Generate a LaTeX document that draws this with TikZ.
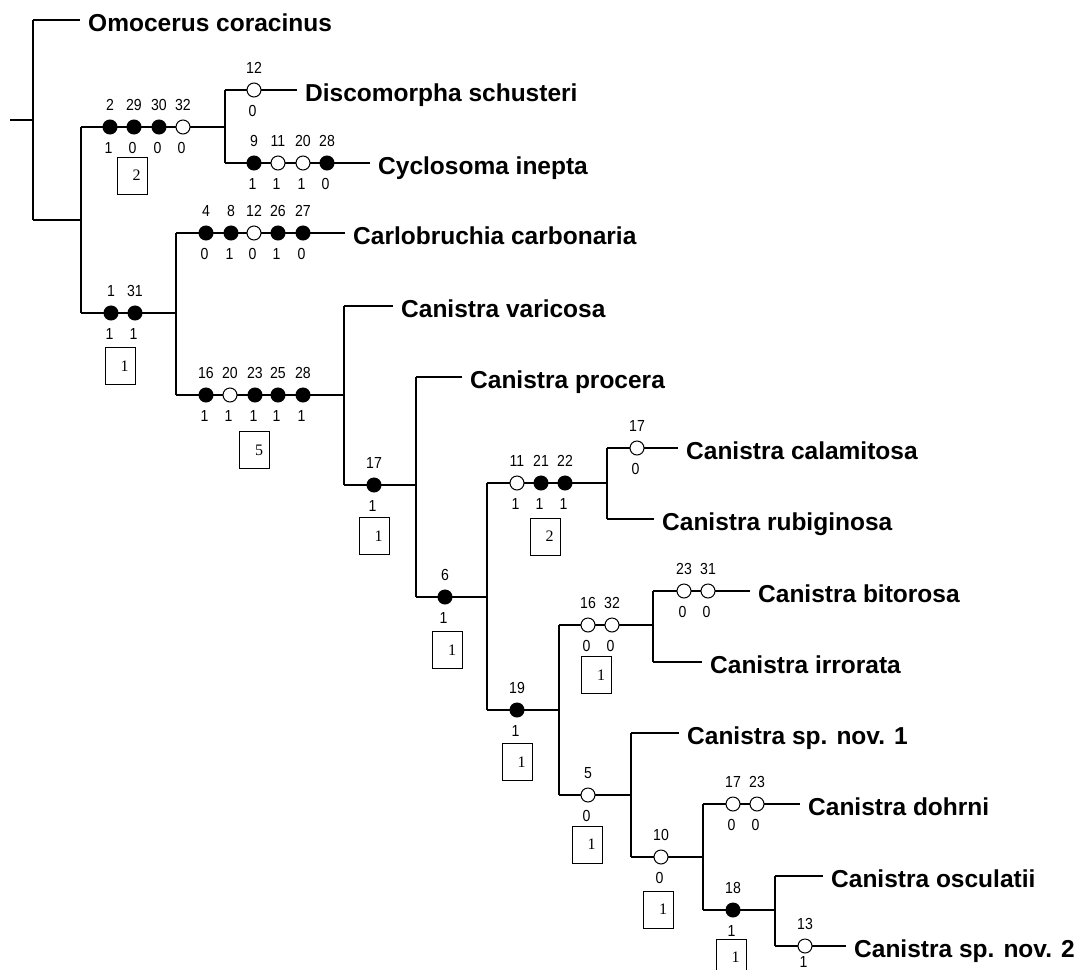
\documentclass[tikz,border=0pt]{standalone}
\usepackage{fontspec}
\newfontfamily\taxfam{Liberation Sans}
\newfontfamily\numfam{Liberation Sans}[FakeStretch=0.88]
\newfontfamily\boxfam{Liberation Serif}
\newcommand\apo[6]{%
  \node[#4] (#1) at (#2,#3) {};
  \node[numlab] (#1u) at (#2,#3-22) {#5};
  \node[numlab] (#1d) at (#2-1.5,#3+21) {#6};
}
\begin{document}
\begin{tikzpicture}[x=1pt,y=-1pt,
  br/.style={line width=1.3pt},
  fillcirc/.style={circle,draw=black,fill=black,line width=1pt,minimum size=14pt,inner sep=0},
  opencirc/.style={circle,draw=black,fill=white,line width=1pt,minimum size=14pt,inner sep=0},
  numlab/.style={font=\numfam\fontsize{16}{18}\selectfont,inner sep=0},
  taxon/.style={font=\taxfam\bfseries\fontsize{24.5}{28}\selectfont,anchor=base west,inner xsep=8pt,inner ysep=0},
  stepsbox/.style={draw,line width=1pt,minimum width=30pt,minimum height=37pt,inner sep=0,font=\boxfam\fontsize{16}{18}\selectfont}]
\useasboundingbox (0,0) rectangle (1080,970);
% joints
\coordinate (r0) at (10,120);
\coordinate (kOmo) at (33,20);  \coordinate (kA) at (33,220);
\coordinate (kB) at (81,127);   \coordinate (kC) at (81,313);
\coordinate (kDisc) at (225,90); \coordinate (kCyc) at (225,163);
\coordinate (kCarl) at (176,233); \coordinate (kD) at (176,395);
\coordinate (kVar) at (344,306); \coordinate (kE) at (344,485);
\coordinate (kPro) at (416,377); \coordinate (kF) at (416,597);
\coordinate (kG) at (487,483);   \coordinate (kH) at (487,710);
\coordinate (kCal) at (607,448); \coordinate (kRub) at (607,519);
\coordinate (kI) at (559,625);   \coordinate (kJ) at (559,795);
\coordinate (kBit) at (653,591); \coordinate (kIrr) at (653,662);
\coordinate (kSp1) at (631,733); \coordinate (kK) at (631,857);
\coordinate (kDoh) at (703,804); \coordinate (kL) at (703,910);
\coordinate (kOsc) at (775,876); \coordinate (kSp2) at (775,946);
% taxa
\node[taxon] (tOmo) at (80,31) {Omocerus coracinus};
\node[taxon] (tDisc) at (297,101) {Discomorpha schusteri};
\node[taxon] (tCyc) at (370,174) {Cyclosoma inepta};
\node[taxon] (tCarl) at (345,244) {Carlobruchia carbonaria};
\node[taxon] (tVar) at (393,317) {Canistra varicosa};
\node[taxon] (tPro) at (462,388) {Canistra procera};
\node[taxon] (tCal) at (678,459) {Canistra calamitosa};
\node[taxon] (tRub) at (654,530) {Canistra rubiginosa};
\node[taxon] (tBit) at (750,602) {Canistra bitorosa};
\node[taxon] (tIrr) at (702,673) {Canistra irrorata};
\node[taxon] (tSp1) at (679,744) {Canistra sp. nov. 1};
\node[taxon] (tDoh) at (800,815) {Canistra dohrni};
\node[taxon] (tOsc) at (823,887) {Canistra osculatii};
\node[taxon] (tSp2) at (846,957) {Canistra sp. nov. 2};
% verticals
\draw[br] (kOmo) -- (kA);
\draw[br] (kB) -- (kC);
\draw[br] (kDisc) -- (kCyc);
\draw[br] (kCarl) -- (kD);
\draw[br] (kVar) -- (kE);
\draw[br] (kPro) -- (kF);
\draw[br] (kG) -- (kH);
\draw[br] (kCal) -- (kRub);
\draw[br] (kI) -- (kJ);
\draw[br] (kBit) -- (kIrr);
\draw[br] (kSp1) -- (kK);
\draw[br] (kDoh) -- (kL);
\draw[br] (kOsc) -- (kSp2);
% internal horizontals
\draw[br] (r0) -- (r0 -| kOmo);
\draw[br] (kA) -- (kA -| kB);
\draw[br] (kB) -- (kB -| kDisc);
\draw[br] (kC) -- (kC -| kCarl);
\draw[br] (kD) -- (kD -| kVar);
\draw[br] (kE) -- (kE -| kPro);
\draw[br] (kF) -- (kF -| kG);
\draw[br] (kG) -- (kG -| kCal);
\draw[br] (kH) -- (kH -| kI);
\draw[br] (kI) -- (kI -| kBit);
\draw[br] (kJ) -- (kJ -| kSp1);
\draw[br] (kK) -- (kK -| kDoh);
\draw[br] (kL) -- (kL -| kOsc);
% terminal horizontals
\foreach \k/\t in {Omo/Omo,Disc/Disc,Cyc/Cyc,Carl/Carl,Var/Var,Pro/Pro,Cal/Cal,Rub/Rub,Bit/Bit,Irr/Irr,Sp1/Sp1,Doh/Doh,Osc/Osc,Sp2/Sp2}
  \draw[br] (k\k) -- (k\k -| t\t.west);
% character states
\apo{b1}{110}{127}{fillcirc}{2}{1}
\apo{b2}{134}{127}{fillcirc}{29}{0}
\apo{b3}{159}{127}{fillcirc}{30}{0}
\apo{b4}{183}{127}{opencirc}{32}{0}
\apo{d1}{254}{90}{opencirc}{12}{0}
\apo{c1}{254}{163}{fillcirc}{9}{1}
\apo{c2}{278}{163}{opencirc}{11}{1}
\apo{c3}{303}{163}{opencirc}{20}{1}
\apo{c4}{327}{163}{fillcirc}{28}{0}
\apo{a1}{111}{313}{fillcirc}{1}{1}
\apo{a2}{135}{313}{fillcirc}{31}{1}
\apo{cb1}{206}{233}{fillcirc}{4}{0}
\apo{cb2}{231}{233}{fillcirc}{8}{1}
\apo{cb3}{254}{233}{opencirc}{12}{0}
\apo{cb4}{278}{233}{fillcirc}{26}{1}
\apo{cb5}{303}{233}{fillcirc}{27}{0}
\apo{e1}{206}{395}{fillcirc}{16}{1}
\apo{e2}{230}{395}{opencirc}{20}{1}
\apo{e3}{255}{395}{fillcirc}{23}{1}
\apo{e4}{278}{395}{fillcirc}{25}{1}
\apo{e5}{303}{395}{fillcirc}{28}{1}
\apo{f1}{374}{485}{fillcirc}{17}{1}
\apo{g1}{445}{597}{fillcirc}{6}{1}
\apo{h1}{517}{483}{opencirc}{11}{1}
\apo{h2}{541}{483}{fillcirc}{21}{1}
\apo{h3}{565}{483}{fillcirc}{22}{1}
\apo{ca1}{637}{448}{opencirc}{17}{0}
\apo{i1}{517}{710}{fillcirc}{19}{1}
\apo{j1}{588}{625}{opencirc}{16}{0}
\apo{j2}{612}{625}{opencirc}{32}{0}
\apo{bi1}{684}{591}{opencirc}{23}{0}
\apo{bi2}{708}{591}{opencirc}{31}{0}
\apo{k1}{588}{795}{opencirc}{5}{0}
\apo{l1}{661}{857}{opencirc}{10}{0}
\apo{do1}{733}{804}{opencirc}{17}{0}
\apo{do2}{757}{804}{opencirc}{23}{0}
\apo{m1}{733}{910}{fillcirc}{18}{1}
\node[opencirc] (s1) at (805,946) {};
\node[numlab] (s1u) at (805,924) {13};
\node[numlab] (s1d) at (803.5,962) {1};
% step boxes
\node[stepsbox] (xB) at (132,175.5) {\hspace{9pt}2};
\node[stepsbox] (xC) at (120,366) {\hspace{9pt}1};
\node[stepsbox] (xD) at (254.5,450) {\hspace{9pt}5};
\node[stepsbox] (xE) at (374,536) {\hspace{9pt}1};
\node[stepsbox] (xF) at (447.5,650) {\hspace{9pt}1};
\node[stepsbox] (xG) at (545,536.5) {\hspace{9pt}2};
\node[stepsbox] (xH) at (517,762) {\hspace{9pt}1};
\node[stepsbox] (xI) at (596.5,675) {\hspace{9pt}1};
\node[stepsbox] (xJ) at (587,844.5) {\hspace{9pt}1};
\node[stepsbox] (xK) at (658.5,909.5) {\hspace{9pt}1};
\node[stepsbox] (xL) at (731,957.5) {\hspace{9pt}1};
\end{tikzpicture}
\end{document}
